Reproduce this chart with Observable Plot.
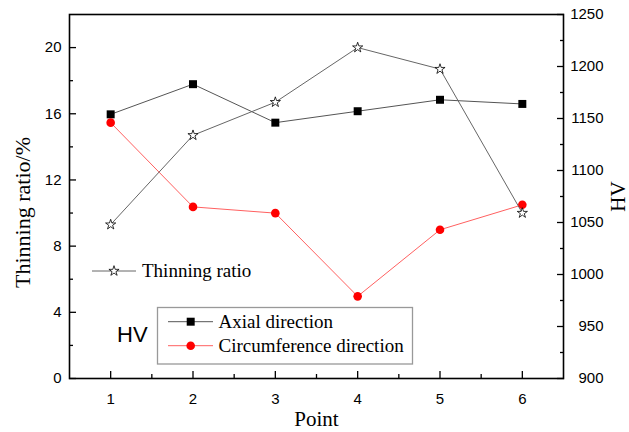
<!DOCTYPE html>
<html>
<head>
<meta charset="utf-8">
<script src="https://cdn.jsdelivr.net/npm/d3@7"></script>
<script src="https://cdn.jsdelivr.net/npm/@observablehq/plot@0.6"></script>
<style>
  html, body { margin: 0; padding: 0; background: white; }
</style>
</head>
<body>
<div id="chart"></div>
<script>
const points = [1, 2, 3, 4, 5, 6];
const thinning = [9.3, 14.7, 16.7, 20.0, 18.7, 10.0];
const axialHV = [1154, 1183, 1146, 1157, 1168, 1164];
const circHV = [1146, 1065, 1059, 979, 1043, 1067];
const leftTicks = [0, 4, 8, 12, 16, 20];
const leftMinor = [2, 6, 10, 14, 18];
const rightTicks = [900, 950, 1000, 1050, 1100, 1150, 1200, 1250];
const rightMinor = [925, 975, 1025, 1075, 1125, 1175, 1225];
const xMinor = [1.5, 2.5, 3.5, 4.5, 5.5];

const hv2y = d3.scaleLinear([900, 1250], [0, 22]);

const thinData = points.map((p, i) => ({point: p, value: thinning[i]}));
const axialData = points.map((p, i) => ({point: p, value: hv2y(axialHV[i])}));
const circData = points.map((p, i) => ({point: p, value: hv2y(circHV[i])}));

const serif = "Liberation Serif, Times New Roman, serif";
const sans = "Liberation Sans, Arial, sans-serif";

const svg = Plot.plot({
  width: 629,
  height: 432,
  marginLeft: 69,
  marginRight: 66,
  marginTop: 14,
  marginBottom: 54,
  x: {domain: [0.5, 6.5]},
  y: {domain: [0, 22]},
  style: {fontFamily: sans, fontSize: "15px", color: "black", background: "white"},
  marks: [
    // ticks (inward)
    Plot.axisY(leftTicks, {anchor: "left", tickSize: 7, dx: 7, tickFormat: () => "", label: null, strokeWidth: 1.3}),
    Plot.axisY(leftMinor, {anchor: "left", tickSize: 4, dx: 4, tickFormat: () => "", label: null, strokeWidth: 1.3}),
    Plot.axisY(leftTicks, {anchor: "left", tickSize: 0, tickPadding: 8, fontSize: 15, label: null}),
    Plot.axisY(rightTicks.map(hv2y), {anchor: "right", tickSize: 7, dx: -7, tickFormat: () => "", label: null, strokeWidth: 1.3}),
    Plot.axisY(rightMinor.map(hv2y), {anchor: "right", tickSize: 4, dx: -4, tickFormat: () => "", label: null, strokeWidth: 1.3}),
    Plot.text(rightTicks, {y: d => hv2y(d), text: d => String(d), frameAnchor: "right", dx: 40, textAnchor: "end", fontSize: 15, fontFamily: sans}),
    Plot.axisX(points, {anchor: "bottom", tickSize: 7, dy: -7, tickFormat: () => "", label: null, strokeWidth: 1.3}),
    Plot.axisX(xMinor, {anchor: "bottom", tickSize: 4, dy: -4, tickFormat: () => "", label: null, strokeWidth: 1.3}),
    Plot.axisX(points, {anchor: "bottom", tickSize: 0, tickPadding: 15, fontSize: 15, label: null}),
    Plot.frame({stroke: "black", strokeWidth: 1.6}),
    // series
    Plot.line(axialData, {x: "point", y: "value", stroke: "#555", strokeWidth: 1}),
    Plot.dot(axialData, {x: "point", y: "value", symbol: "square", r: 4.5, fill: "black", stroke: "none"}),
    Plot.line(circData, {x: "point", y: "value", stroke: "#ff6060", strokeWidth: 1}),
    Plot.dot(circData, {x: "point", y: "value", symbol: "circle", r: 4.3, fill: "#ff0000", stroke: "none"}),
    Plot.line(thinData, {x: "point", y: "value", stroke: "#666", strokeWidth: 1}),
    Plot.dot(thinData, {x: "point", y: "value", symbol: "star", r: 3.2, fill: "white", stroke: "black", strokeWidth: 0.8}),
    // titles
    Plot.text(["Thinning ratio/%"], {text: d => d, frameAnchor: "left", textAnchor: "middle", lineAnchor: "middle", dx: -47, dy: 16, rotate: -90, fontFamily: serif, fontSize: 22}),
    Plot.text(["HV"], {text: d => d, frameAnchor: "right", textAnchor: "middle", lineAnchor: "middle", dx: 55, dy: 0, rotate: -90, fontFamily: serif, fontSize: 21}),
    Plot.text(["Point"], {text: d => d, frameAnchor: "bottom", textAnchor: "middle", lineAnchor: "middle", dy: 41, fontFamily: serif, fontSize: 21})
  ]
});

// legends
const g = d3.select(svg).append("g").attr("text-anchor", "start");
// Thinning ratio legend (no box)
g.append("line").attr("x1", 92).attr("x2", 136).attr("y1", 271).attr("y2", 271).attr("stroke", "#666").attr("stroke-width", 1);
g.append("path").attr("d", d3.symbol(d3.symbolStar, Math.PI * 3.2 * 3.2)()).attr("transform", "translate(114,271)")
  .attr("fill", "white").attr("stroke", "black").attr("stroke-width", 0.8);
g.append("text").attr("x", 142).attr("y", 277).attr("text-anchor", "start").attr("font-family", serif).attr("font-size", 19).attr("fill", "black").text("Thinning ratio");

// Boxed legend
g.append("rect").attr("x", 157.5).attr("y", 307.5).attr("width", 255).attr("height", 56.5)
  .attr("fill", "white").attr("stroke", "#999").attr("stroke-width", 1.3);
g.append("line").attr("x1", 168).attr("x2", 213).attr("y1", 321.7).attr("y2", 321.7).attr("stroke", "#555").attr("stroke-width", 1);
g.append("path").attr("d", d3.symbol(d3.symbolSquare, Math.PI * 4.5 * 4.5)()).attr("transform", "translate(190.7,321.7)").attr("fill", "black");
g.append("text").attr("x", 218.5).attr("y", 328).attr("text-anchor", "start").attr("font-family", serif).attr("font-size", 19).attr("fill", "black").text("Axial direction");
g.append("line").attr("x1", 168).attr("x2", 213).attr("y1", 345.7).attr("y2", 345.7).attr("stroke", "#ff6060").attr("stroke-width", 1);
g.append("circle").attr("cx", 190.7).attr("cy", 345.7).attr("r", 4.3).attr("fill", "#ff0000");
g.append("text").attr("x", 218.5).attr("y", 352).attr("text-anchor", "start").attr("font-family", serif).attr("font-size", 19).attr("fill", "black").text("Circumference direction");

// HV label
g.append("text").attr("x", 117).attr("y", 342).attr("text-anchor", "start").attr("font-family", sans).attr("font-size", 22).attr("fill", "black").text("HV");

document.getElementById("chart").append(svg);
</script>
</body>
</html>
